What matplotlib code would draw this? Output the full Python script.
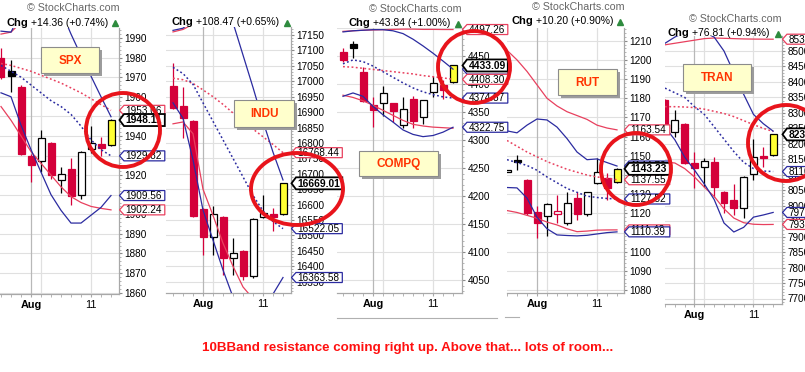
import matplotlib
matplotlib.use("Agg")
import matplotlib.pyplot as plt
from matplotlib.patches import Polygon, Rectangle, Ellipse
from matplotlib.ticker import MultipleLocator, StrMethodFormatter

plt.rcParams['font.family'] = ['Liberation Sans', 'DejaVu Sans']

W, H = 805, 372

# ---------------- data ----------------
day_idx = [-3, -2, -1, 0, 1, 2, 3, 4, 5, 6, 7, 8]
x_tick_days = [0, 6]
x_tick_labels = ['Aug', '11']

spx_open  = [1980.0, 1973.0, 1965.0, 1930.0, 1927.0, 1936.5, 1917.5, 1923.0, 1910.0, 1933.5, 1936.0, 1935.5]
spx_high  = [1985.0, 1979.0, 1966.0, 1931.0, 1943.0, 1937.0, 1924.0, 1928.5, 1932.5, 1945.0, 1939.5, 1948.5]
spx_low   = [1969.0, 1962.5, 1930.5, 1916.5, 1921.6, 1918.0, 1911.0, 1904.5, 1908.0, 1931.5, 1929.5, 1935.0]
spx_close = [1970.0, 1970.5, 1931.0, 1925.0, 1939.0, 1920.0, 1920.5, 1909.5, 1932.0, 1936.5, 1934.0, 1948.11]
spx_bb10_up  = [1993.5, 1993.0, 2003.0, 2010.0, 2013.0, 2011.0, 2004.0, 1992.0, 1981.0, 1970.5, 1960.0, 1949.8]
spx_bb10_mid = [1976.0, 1973.0, 1970.0, 1966.0, 1962.0, 1958.0, 1955.0, 1951.0, 1945.0, 1938.0, 1933.0, 1929.82]
spx_bb10_lo  = [1962.0, 1960.0, 1945.5, 1933.0, 1921.5, 1910.0, 1902.0, 1895.5, 1895.5, 1899.5, 1903.5, 1909.56]
spx_bb20_up  = [1992.0, 1993.0, 1998.0, 2001.0, 2003.0, 2004.0, 2004.0, 2003.0, 2002.0, 2000.0, 1999.0, 1998.0]
spx_bb20_mid = [1977.0, 1976.0, 1974.5, 1973.0, 1971.0, 1969.0, 1967.0, 1964.5, 1962.0, 1959.0, 1956.0, 1953.06]
spx_bb20_lo  = [1955.0, 1948.0, 1940.0, 1932.0, 1926.0, 1920.0, 1914.0, 1909.0, 1906.0, 1904.0, 1903.0, 1902.24]
spx_chg = '+14.36 (+0.74%)'

indu_open  = [16985, 16920, 16871, 16586, 16495, 16560, 16428, 16449, 16368, 16560, 16569, 16569]
indu_high  = [17060, 16981, 16875, 16590, 16595, 16562, 16492, 16452, 16558, 16630, 16590, 16670]
indu_low   = [16910, 16816, 16560, 16437, 16437, 16372, 16372, 16355, 16362, 16555, 16515, 16565]
indu_close = [16913, 16881, 16563, 16495, 16569, 16427, 16442, 16368, 16553, 16573, 16560, 16669.01]
indu_bb10_up  = [17165, 17172, 17200, 17260, 17280, 17260, 17190, 17085, 16980, 16870, 16770, 16680]
indu_bb10_mid = [17045, 17025, 16990, 16930, 16870, 16810, 16750, 16690, 16630, 16580, 16545, 16522.05]
indu_bb10_lo  = [16930, 16880, 16745, 16582, 16485, 16388, 16300, 16230, 16220, 16260, 16310, 16363.58]
indu_bb20_up  = [17160, 17168, 17185, 17210, 17230, 17240, 17245, 17245, 17240, 17235, 17230, 17225]
indu_bb20_mid = [17010, 17005, 16993, 16972, 16950, 16925, 16897, 16870, 16845, 16820, 16795, 16768.44]
indu_bb20_lo  = [16862, 16868, 16830, 16650, 16565, 16475, 16400, 16333, 16295, 16275, 16262, 16255]
indu_chg = '+108.47 (+0.65%)'

compq_open  = [4457.0, 4472.0, 4422.0, 4362.0, 4365.5, 4365.5, 4327.0, 4372.5, 4340.5, 4386.0, 4398.0, 4404.0]
compq_high  = [4465.0, 4476.0, 4431.0, 4377.0, 4396.0, 4366.0, 4377.0, 4379.0, 4372.0, 4414.0, 4408.0, 4434.0]
compq_low   = [4440.0, 4446.0, 4367.0, 4323.0, 4342.0, 4333.0, 4321.0, 4321.0, 4328.0, 4376.0, 4373.0, 4402.0]
compq_close = [4442.0, 4464.0, 4369.0, 4354.0, 4383.5, 4352.0, 4355.0, 4334.5, 4371.5, 4401.0, 4389.0, 4433.09]
compq_bb10_up  = [4493, 4495, 4496, 4497, 4497, 4495, 4490, 4480, 4468, 4455, 4441, 4426.55]
compq_bb10_mid = [4436, 4443, 4440, 4432, 4422, 4412, 4402, 4393, 4386, 4381, 4377, 4374.87]
compq_bb10_lo  = [4378, 4384, 4378, 4360, 4345, 4332, 4318, 4310, 4306, 4308, 4314, 4322.75]
compq_bb20_up  = [4494, 4495, 4496, 4496.5, 4497, 4497.5, 4498, 4498, 4497.5, 4497.5, 4497.3, 4497.26]
compq_bb20_mid = [4431, 4430, 4428, 4426, 4424, 4422, 4420, 4418, 4415, 4413, 4411, 4408.30]
compq_bb20_lo  = [4380, 4376, 4370, 4362, 4353, 4344, 4335, 4328, 4325, 4323, 4322, 4321]
compq_chg = '+43.84 (+1.00%)'

rut_open  = [1141.8, 1147.8, 1137.5, 1120.6, 1118.7, 1119.6, 1115.0, 1128.0, 1119.6, 1136.0, 1138.3, 1136.6]
rut_high  = [1142.6, 1150.5, 1138.0, 1124.0, 1125.5, 1129.6, 1131.4, 1131.4, 1131.4, 1148.7, 1141.0, 1143.5]
rut_low   = [1141.4, 1142.7, 1119.0, 1107.0, 1108.0, 1115.0, 1114.0, 1116.6, 1118.5, 1135.5, 1127.0, 1136.0]
rut_close = [1142.2, 1147.0, 1120.0, 1115.0, 1125.0, 1121.5, 1125.3, 1119.6, 1131.0, 1141.8, 1133.0, 1143.23]
rut_bb10_up  = [1163.0, 1162.0, 1166.0, 1169.2, 1168.7, 1165.0, 1159.0, 1152.0, 1148.0, 1148.4, 1146.5, 1144.7]
rut_bb10_mid = [1148.0, 1146.5, 1145.0, 1142.5, 1139.0, 1136.0, 1133.0, 1131.0, 1129.0, 1128.3, 1127.8, 1127.52]
rut_bb10_lo  = [1133.5, 1133.3, 1128.0, 1118.0, 1112.0, 1108.8, 1108.5, 1108.3, 1108.6, 1109.3, 1110.0, 1110.39]
rut_bb20_up  = [1205.0, 1200.0, 1194.0, 1187.0, 1180.0, 1176.0, 1173.0, 1171.0, 1169.0, 1166.0, 1164.5, 1163.54]
rut_bb20_mid = [1158.0, 1155.0, 1152.0, 1149.5, 1147.0, 1145.0, 1143.0, 1141.5, 1140.0, 1139.0, 1138.3, 1137.55]
rut_bb20_lo  = [1121.5, 1120.5, 1119.0, 1117.5, 1115.5, 1114.0, 1112.0, 1110.5, 1110.8, 1111.3, 1111.4, 1111.42]
rut_chg = '+10.20 (+0.90%)'

tran_open  = [8341, 8239, 8264, 8137, 8124, 8140, 8045, 8018, 7992, 8102.5, 8162, 8164]
tran_high  = [8345, 8309, 8266, 8175, 8153, 8158, 8048, 8070, 8095, 8215, 8191, 8232]
tran_low   = [8240, 8223, 8135, 8057, 8061, 8029, 7975, 7970, 7959, 8083, 8126, 8160]
tran_close = [8245, 8277, 8139, 8121, 8145, 8061, 8008, 7992, 8093, 8156, 8154, 8230.53]
tran_bb10_up  = [8525, 8545, 8560, 8565, 8560, 8545, 8500, 8430, 8360, 8295, 8265, 8241]
tran_bb10_mid = [8380, 8365, 8350, 8320, 8295, 8255, 8215, 8175, 8140, 8120, 8112, 8110.36]
tran_bb10_lo  = [8254, 8213, 8157, 8115, 8070, 8020, 7944, 7915, 7930, 7963, 7970, 7978.21]
tran_bb20_up  = [8520, 8525, 8530, 8535, 8540, 8542, 8541, 8540, 8539, 8538.5, 8538.3, 8538.12]
tran_bb20_mid = [8320, 8320, 8319, 8317, 8312, 8305, 8298, 8288, 8275, 8262, 8250, 8240.0]
tran_bb20_lo  = [8141, 8138, 8120, 8093, 8060, 8030, 7990, 7960, 7945, 7940, 7939, 7939.40]
tran_chg = '+76.81 (+0.94%)'

note_text = '10BBand resistance coming right up. Above that... lots of room...'

# ---------------- styles / layout ----------------
RED_C = '#d4003a'
BLUE_L = '#2b2ba0'
RED_L = '#e8405e'
CIRCLE_C = '#e8141c'

panels = [
    dict(name='SPX', o=spx_open, h=spx_high, l=spx_low, c=spx_close,
         up10=spx_bb10_up, mid10=spx_bb10_mid, lo10=spx_bb10_lo,
         up20=spx_bb20_up, mid20=spx_bb20_mid, lo20=spx_bb20_lo, chg=spx_chg,
         box=(0, 28, 119, 294), aug=31, cal=(1990, 38, 1870, 273), step=10,
         hdr=(6, 22.5), logo=(119, 8), lbox=(41, 47, 99, 73), circ=(123, 130, 37, 37),
         tags=[('mid20', RED_L), ('lo20', RED_L), ('mid10', BLUE_L), ('lo10', BLUE_L)]),
    dict(name='INDU', o=indu_open, h=indu_high, l=indu_low, c=indu_close,
         up10=indu_bb10_up, mid10=indu_bb10_mid, lo10=indu_bb10_lo,
         up20=indu_bb20_up, mid20=indu_bb20_mid, lo20=indu_bb20_lo, chg=indu_chg,
         box=(166, 27, 291, 293), aug=203, cal=(17150, 35, 16350, 281.7), step=50,
         hdr=(171, 22), logo=None, lbox=(234, 100, 294, 127), circ=(297, 189, 46, 36),
         tags=[('mid20', RED_L), ('mid10', BLUE_L), ('lo10', BLUE_L)]),
    dict(name='COMPQ', o=compq_open, h=compq_high, l=compq_low, c=compq_close,
         up10=compq_bb10_up, mid10=compq_bb10_mid, lo10=compq_bb10_lo,
         up20=compq_bb20_up, mid20=compq_bb20_mid, lo20=compq_bb20_lo, chg=compq_chg,
         box=(337, 28, 462, 293), aug=373, cal=(4450, 56, 4050, 280), step=50,
         hdr=(348, 23), logo=(461, 9), lbox=(359, 151, 438, 176), circ=(474, 67, 36, 36),
         tags=[('up20', RED_L), ('up10', BLUE_L), ('mid20', RED_L), ('mid10', BLUE_L), ('lo10', BLUE_L)]),
    dict(name='RUT', o=rut_open, h=rut_high, l=rut_low, c=rut_close,
         up10=rut_bb10_up, mid10=rut_bb10_mid, lo10=rut_bb10_lo,
         up20=rut_bb20_up, mid20=rut_bb20_mid, lo20=rut_bb20_lo, chg=rut_chg,
         box=(507, 28, 624, 293), aug=537, cal=(1210, 40.7, 1090, 271), step=10,
         hdr=(511, 21), logo=(624, 7), lbox=(558, 69, 617, 95), circ=(636, 169, 35, 36),
         tags=[('up20', RED_L), ('up10', BLUE_L), ('mid20', RED_L), ('mid10', BLUE_L), ('lo20', RED_L), ('lo10', BLUE_L)]),
    dict(name='TRAN', o=tran_open, h=tran_high, l=tran_low, c=tran_close,
         up10=tran_bb10_up, mid10=tran_bb10_mid, lo10=tran_bb10_lo,
         up20=tran_bb20_up, mid20=tran_bb20_mid, lo20=tran_bb20_lo, chg=tran_chg,
         box=(665, 36, 782, 304), aug=693, cal=(8500, 51, 7700, 298.5), step=50,
         hdr=(667, 33), logo=(781, 19.5), lbox=(683, 64, 751, 91), circ=(786, 143, 38, 38),
         tags=[('up20', RED_L), ('mid10', BLUE_L), ('lo20', RED_L), ('lo10', BLUE_L)]),
]

fig = plt.figure(figsize=(W / 100, H / 100), dpi=100)
fig.patch.set_facecolor('white')

axes = []
for p in panels:
    x0, y0, x1, y1 = p['box']
    ax = fig.add_axes([x0 / W, 1 - y1 / H, (x1 - x0) / W, (y1 - y0) / H])
    v1, py1, v2, py2 = p['cal']
    slope = (v2 - v1) / (py2 - py1)
    ylo = v1 + (y1 - py1) * slope
    yhi = v1 + (y0 - py1) * slope
    ax.set_ylim(ylo, yhi)
    ax.set_xlim((x0 - p['aug']) / 10.0, (x1 - p['aug']) / 10.0)
    ax.set_facecolor('white')
    for s in ['left', 'top']:
        ax.spines[s].set_visible(False)
    for s in ['right', 'bottom']:
        ax.spines[s].set_color('#a8a8a8')
        ax.spines[s].set_linewidth(0.9)
    ax.yaxis.tick_right()
    ax.yaxis.set_major_locator(MultipleLocator(p['step']))
    ax.yaxis.set_minor_locator(MultipleLocator(p['step'] / 5))
    ax.yaxis.set_major_formatter(StrMethodFormatter('{x:.0f}'))
    ax.tick_params(axis='y', which='major', length=2.5, width=0.8, color='#8a8a8a',
                   pad=1.5, labelsize=7.2, labelcolor='black')
    ax.tick_params(axis='y', which='minor', length=1.5, width=0.6, color='#a8a8a8')
    ax.set_xticks(x_tick_days)
    ax.set_xticklabels(x_tick_labels)
    ax.get_xticklabels()[0].set_fontweight('bold')
    ax.set_xticks(day_idx, minor=True)
    ax.tick_params(axis='x', which='major', length=2.5, width=0.8, color='#a8a8a8',
                   pad=2, labelsize=7.8)
    ax.tick_params(axis='x', which='minor', length=2, width=0.6, color='#a8a8a8')
    ax.yaxis.grid(True, which='major', color='#e0e0e0', lw=0.8)
    ax.set_axisbelow(True)
    ax.axvline(0, color='#b8b8b8', lw=0.9, zorder=0.6)
    ax.axvline(1, color='#e0e0e0', lw=0.9, zorder=0.6)
    ax.axvline(6, color='#e0e0e0', lw=0.9, zorder=0.6)

    # candles
    px_unit = (yhi - ylo) / (y1 - y0)
    o, hh, ll, c = p['o'], p['h'], p['l'], p['c']
    prev = [o[0]] + c[:-1]
    n = len(o)
    for i, d in enumerate(day_idx):
        last = (i == n - 1)
        up = c[i] >= o[i]
        col = RED_C if c[i] < prev[i] else 'black'
        if last:
            col, face, edge = 'black', '#ffff33', 'black'
        elif up:
            face, edge = 'white', col
        else:
            face, edge = col, col
        ax.vlines(d, ll[i], hh[i], color=col, lw=0.9, zorder=2)
        bot = min(o[i], c[i])
        ht = max(abs(c[i] - o[i]), 1.6 * px_unit)
        ax.bar(d, ht, bottom=bot, width=0.7, facecolor=face, edgecolor=edge,
               lw=0.9, zorder=2.5)

    # bands
    dot = (0, (1.2, 1.6))
    ax.plot(day_idx, p['up20'], color=RED_L, lw=0.9, zorder=3)
    ax.plot(day_idx, p['lo20'], color=RED_L, lw=0.9, zorder=3)
    ax.plot(day_idx, p['mid20'], color=RED_L, lw=1.1, ls=dot, zorder=3)
    ax.plot(day_idx, p['up10'], color=BLUE_L, lw=0.9, zorder=3)
    ax.plot(day_idx, p['lo10'], color=BLUE_L, lw=0.9, zorder=3)
    ax.plot(day_idx, p['mid10'], color=BLUE_L, lw=1.1, ls=dot, zorder=3)
    axes.append(ax)

# ---------------- overlay ----------------
ov = fig.add_axes([0, 0, 1, 1])
ov.set_xlim(0, W)
ov.set_ylim(H, 0)
ov.axis('off')

tag_z = [5.0]


def draw_tag(ax, value, color, bold=False):
    y_disp = ax.transData.transform((0, value))[1]
    x_disp = ax.transAxes.transform((1, 0))[0]
    py = H - y_disp
    x0 = x_disp
    txt = f'{value:.2f}'
    nd = sum(ch.isdigit() for ch in txt)
    w = 5.5 * nd + 2.8 + 5
    hh = 6 if bold else 5
    pts = [(x0 + 0.5, py), (x0 + 5, py - hh), (x0 + 5 + w, py - hh),
           (x0 + 5 + w, py + hh), (x0 + 5, py + hh)]
    z = tag_z[0]
    tag_z[0] += 0.02
    ov.add_patch(Polygon(pts, closed=True, facecolor='white', edgecolor=color,
                         lw=1.3 if bold else 0.9, zorder=z))
    ov.text(x0 + 6.5, py + 0.3, txt, fontsize=7.4 if bold else 7.2,
            fontweight='bold' if bold else 'normal', color='black',
            va='center', ha='left', zorder=z + 0.01)


for p, ax in zip(panels, axes):
    for key, col in p['tags']:
        draw_tag(ax, p[key][-1], col)
    draw_tag(ax, p['c'][-1], 'black', bold=True)

    # header
    hx, hy = p['hdr']
    ov.text(hx, hy, 'Chg', fontsize=8, fontweight='bold', va='center', ha='left', zorder=6)
    ov.text(hx + 25, hy, p['chg'], fontsize=7.5, va='center', ha='left', zorder=6)
    ov.plot([p['box'][2] - 4], [hy + 0.5], marker='^', color='#2e8b3e', ms=4, zorder=6)

    if p['logo'] is not None:
        lx, ly = p['logo']
        ov.text(lx, ly, '\u00a9 StockCharts.com', fontsize=7.7, color='#666666',
                va='center', ha='right', zorder=6)

    # label box
    bx0, by0, bx1, by1 = p['lbox']
    ov.add_patch(Rectangle((bx0 + 3, by0 + 3), bx1 - bx0, by1 - by0,
                           facecolor='#9c9c9c', edgecolor='none', zorder=7))
    ov.add_patch(Rectangle((bx0, by0), bx1 - bx0, by1 - by0,
                           facecolor='#ffffcc', edgecolor='#8c8c8c', lw=0.8, zorder=7.5))
    ov.text((bx0 + bx1) / 2, (by0 + by1) / 2 + 0.5, p['name'], fontsize=8.5,
            fontweight='bold', color='#ff3300', ha='center', va='center', zorder=8)

    cx, cy, rx, ry = p['circ']
    ov.add_patch(Ellipse((cx, cy), 2 * rx, 2 * ry, facecolor='none',
                         edgecolor=CIRCLE_C, lw=2.8, zorder=9))

# separator lines
ov.plot([337, 497], [318, 318], color='#b0b0b0', lw=0.8, zorder=1)
ov.plot([505, 519], [317, 317], color='#b0b0b0', lw=0.8, zorder=1)

ov.text(202, 348, note_text, fontsize=9.6, fontweight='bold', color='#ff1010',
        ha='left', va='center', zorder=10)

fig.savefig('out.png', dpi=100, facecolor='white')
